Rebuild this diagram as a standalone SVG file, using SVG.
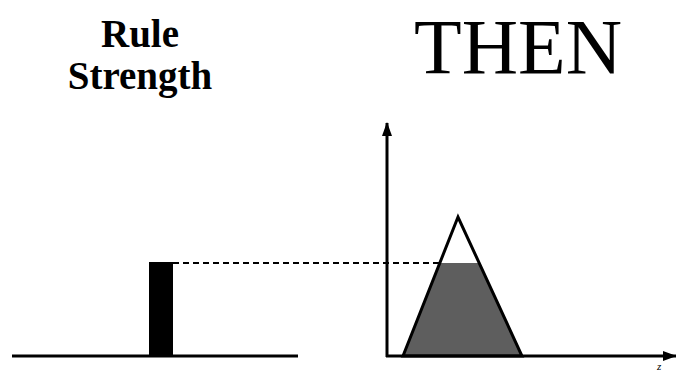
<svg xmlns="http://www.w3.org/2000/svg" width="676" height="371" viewBox="0 0 676 371">
<style>
.lbl{font-family:"Liberation Serif","Times New Roman",serif;fill:#000}
.ln{stroke:#000;stroke-width:3;fill:none}
</style>
<defs>
<marker id="ah" markerWidth="14" markerHeight="12" refX="13" refY="6" orient="auto" markerUnits="userSpaceOnUse" viewBox="0 0 14 12">
<path d="M0,1 L14,6 L0,11 Z" fill="#000"/>
</marker>
</defs>
<rect width="676" height="371" fill="#fff"/>
<g id="rule-strength-label">
<text class="lbl" x="140" y="47" font-size="39" font-weight="bold" text-anchor="middle">Rule</text>
<text class="lbl" x="140" y="89" font-size="39" font-weight="bold" text-anchor="middle">Strength</text>
</g>
<g id="then-label">
<text class="lbl" x="518" y="73" font-size="78" text-anchor="middle">THEN</text>
</g>
<g id="strength-plot">
<line class="ln" x1="12" y1="356" x2="298" y2="356"/>
<rect x="149" y="262" width="24" height="95" fill="#000"/>
</g>
<g id="output-plot">
<polygon points="403,356 440,263 479,263 522,356" fill="#5e5e5e"/>
<polygon points="403,356 458,217 522,356" class="ln" stroke-linejoin="miter"/>
<text class="lbl" x="657" y="370" font-size="11" font-style="italic">z</text>
</g>
<g id="connectors">
<line class="ln" x1="387" y1="357" x2="387" y2="123" marker-end="url(#ah)"/>
<line class="ln" x1="386" y1="356" x2="676" y2="356" marker-end="url(#ah)"/>
<line x1="173" y1="263" x2="440" y2="263" stroke="#000" stroke-width="2" stroke-dasharray="6,4"/>
</g>
</svg>
